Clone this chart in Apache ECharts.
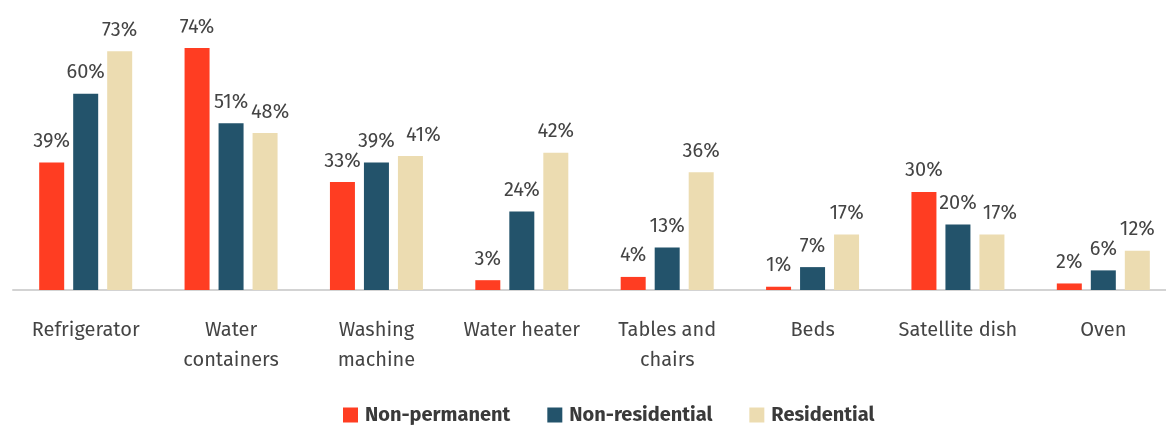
<!DOCTYPE html>
<html>
<head>
<meta charset="utf-8">
<script src="https://cdn.jsdelivr.net/npm/echarts@6/dist/echarts.min.js"></script>
<style>
  html, body { margin: 0; padding: 0; background: #ffffff; overflow: hidden; }
  #chart { width: 1176px; height: 425px; }
</style>
</head>
<body>
<div id="chart"></div>
<script>
// Household items owned, by housing type (%)
const categories = ['Refrigerator', 'Water\ncontainers', 'Washing\nmachine', 'Water heater',
  'Tables and\nchairs', 'Beds', 'Satellite dish', 'Oven'];
const seriesNames = ['Non-permanent', 'Non-residential', 'Residential'];
const nonPermanent = [39, 74, 33, 3, 4, 1, 30, 2];
const nonResidential = [60, 51, 39, 24, 13, 7, 20, 6];
const residential = [73, 48, 41, 42, 36, 17, 17, 12];
const colors = ['#ff3d22', '#23536b', '#ecdcb1'];

// Horizontal nudges (px) for value labels that would otherwise collide,
// keyed by category index.
const residentialLabelNudge = { 1: 5, 2: 13, 6: 8 };

const font = '"Fira Sans", "Open Sans", "Noto Sans", sans-serif';

const chart = echarts.init(document.getElementById('chart'), null, { renderer: 'canvas' });

function barSeries(name, values, color, nudge) {
  return {
    name: name,
    type: 'bar',
    data: values.map(function (v, i) {
      if (nudge && nudge[i]) {
        return { value: v, label: { offset: [nudge[i], 0] } };
      }
      return v;
    }),
    barWidth: 25,
    barGap: '36%',
    itemStyle: { color: color },
    label: {
      show: true,
      position: 'top',
      distance: 11,
      formatter: '{c}%',
      color: '#444444',
      fontSize: 20,
      fontFamily: font
    }
  };
}

chart.setOption({
  animation: false,
  backgroundColor: '#ffffff',
  grid: { left: 13, top: 28.4, right: 0, bottom: 135, containLabel: false },
  legend: {
    data: seriesNames,
    left: 338,
    top: 400,
    itemWidth: 15,
    itemHeight: 15,
    itemGap: 37,
    icon: 'rect',
    textStyle: { fontSize: 20, fontWeight: 'bold', color: '#3a3a3a', fontFamily: font, padding: [0, 0, 0, 2] }
  },
  xAxis: {
    type: 'category',
    data: categories,
    axisLine: { lineStyle: { color: '#d3d3d3', width: 2 } },
    axisTick: { show: false },
    axisLabel: {
      margin: 25,
      fontSize: 20,
      lineHeight: 30,
      color: '#444444',
      fontFamily: font,
      interval: 0
    }
  },
  yAxis: {
    type: 'value',
    min: 0,
    max: 80,
    show: false,
    splitLine: { show: false }
  },
  series: [
    barSeries(seriesNames[0], nonPermanent, colors[0]),
    barSeries(seriesNames[1], nonResidential, colors[1]),
    barSeries(seriesNames[2], residential, colors[2], residentialLabelNudge)
  ]
});
</script>
</body>
</html>
